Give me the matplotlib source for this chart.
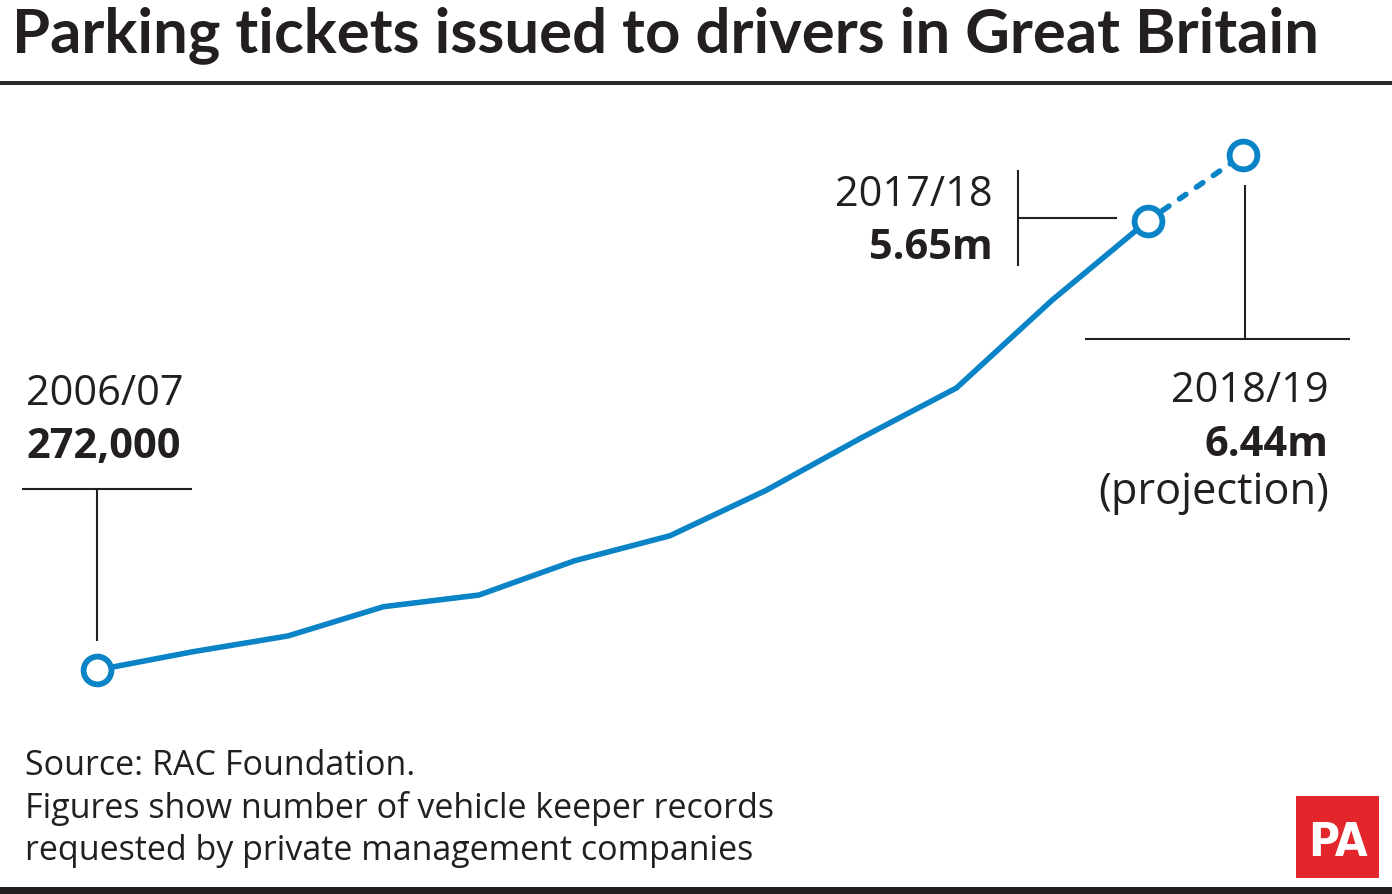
import numpy as np
import matplotlib
matplotlib.use("Agg")
import matplotlib.pyplot as plt
from matplotlib.lines import Line2D
from matplotlib.patches import Rectangle

# ---------------- data ----------------
years = ["2006/07", "2007/08", "2008/09", "2009/10", "2010/11", "2011/12", "2012/13",
         "2013/14", "2014/15", "2015/16", "2016/17", "2017/18", "2018/19"]
tickets_m = [0.272, 0.49, 0.68, 1.03, 1.17, 1.58, 1.88, 2.42, 3.05, 3.65, 4.70, 5.65, 6.44]
projected = [False] * 12 + [True]

title = "Parking tickets issued to drivers in Great Britain"
first_label = ("2006/07", "272,000")
last_actual_label = ("2017/18", "5.65m")
proj_label = ("2018/19", "6.44m", "(projection)")
footer = ["Source: RAC Foundation.",
          "Figures show number of vehicle keeper records",
          "requested by private management companies"]

# ---------------- style ----------------
W, H = 1392, 894
BLUE = "#0a84c6"
INK = "#231f20"
RED = "#e3262b"
BODY = "Open Sans"
TITLE_FONT = "Lato"

fig = plt.figure(figsize=(W / 100, H / 100), dpi=100)
fig.patch.set_facecolor("white")
renderer = fig.canvas.get_renderer()


def fx(xp):
    return xp / W


def fy(yp):
    return 1 - yp / H


def ptext(xp, yp, s, target_w=None, size=20, **kw):
    t = fig.text(fx(xp), fy(yp), s, fontsize=size, va="baseline", color=kw.pop("color", INK), **kw)
    if target_w is not None:
        w = t.get_window_extent(renderer).width
        t.set_fontsize(size * target_w / w)
    return t


def pline(xs, ys, lw=1.5, color=INK):
    fig.add_artist(Line2D([fx(v) for v in xs], [fy(v) for v in ys], lw=lw, color=color,
                          solid_capstyle="butt"))


# ---------------- chart axes (pixel-anchored scale) ----------------
x0px, step = 97.0, 95.5
base_px, pxpm = 670.0, 83.5
ax = fig.add_axes([0, 0, 1, 1])
ax.set_xlim(-x0px / step, (W - x0px) / step)
ax.set_ylim(tickets_m[0] - (H - base_px) / pxpm, tickets_m[0] + base_px / pxpm)
ax.axis("off")
ax.patch.set_alpha(0)

x = np.arange(len(years))
y = np.array(tickets_m)
act = ~np.array(projected)
n_act = int(act.sum())

LW = 4.0
ax.plot(x[:n_act], y[:n_act], color=BLUE, lw=LW, solid_joinstyle="miter", zorder=2)
ax.plot(x[n_act - 1:], y[n_act - 1:], color=BLUE, lw=LW, ls=(0.4, (1.4, 2.3)),
        dash_capstyle="round", zorder=2)
mk = [0, n_act - 1, len(x) - 1]
ax.plot(x[mk], y[mk], "o", ms=20, mfc="white", mec=BLUE, mew=4.2, zorder=3)

# ---------------- title & rules ----------------
ptext(12, 52, title, target_w=1306, size=40, weight="bold", family=TITLE_FONT)
fig.add_artist(Rectangle((0, fy(85)), 1, 4 / H, transform=fig.transFigure,
                         color="#2b2b2b", lw=0))
fig.add_artist(Rectangle((0, 0), 1, 7 / H, transform=fig.transFigure,
                         color=INK, lw=0))

# ---------------- annotations ----------------
reg = ptext(26, 405, first_label[0], target_w=158, size=30, family=BODY)
REG = reg.get_fontsize()
bold = ptext(26, 458, first_label[1], target_w=154, size=30, weight="bold", family=BODY)
BOLD = bold.get_fontsize()
pline([22, 192], [489, 489])
pline([97, 97], [489, 641])

ptext(993, 206, last_actual_label[0], size=REG, family=BODY, ha="right")
ptext(993, 259, last_actual_label[1], size=BOLD, weight="bold", family=BODY, ha="right")
pline([1018, 1018], [170, 266])
pline([1018, 1117], [218, 218])

pline([1245, 1245], [185, 339])
pline([1085, 1350], [339, 339])
ptext(1329, 402, proj_label[0], size=REG, family=BODY, ha="right")
ptext(1329, 456, proj_label[1], size=BOLD, weight="bold", family=BODY, ha="right")
ptext(1329, 504, proj_label[2], size=REG * 1.04, family=BODY, ha="right")

# ---------------- footer ----------------
f2 = ptext(25, 818, footer[1], target_w=750, size=22, family=BODY)
FS = f2.get_fontsize()
ptext(25, 775, footer[0], size=FS, family=BODY)
ptext(25, 860, footer[2], size=FS, family=BODY)

# ---------------- PA logo ----------------
fig.add_artist(Rectangle((fx(1296), fy(878)), 83 / W, 82 / H, transform=fig.transFigure,
                         color=RED, lw=0))
fig.text(fx(1337.5), fy(856), "PA", color="white", fontsize=34, weight="bold",
         family="DejaVu Sans", fontstretch="condensed", ha="center", va="baseline")

fig.savefig("out.png", dpi=100, facecolor="white")
